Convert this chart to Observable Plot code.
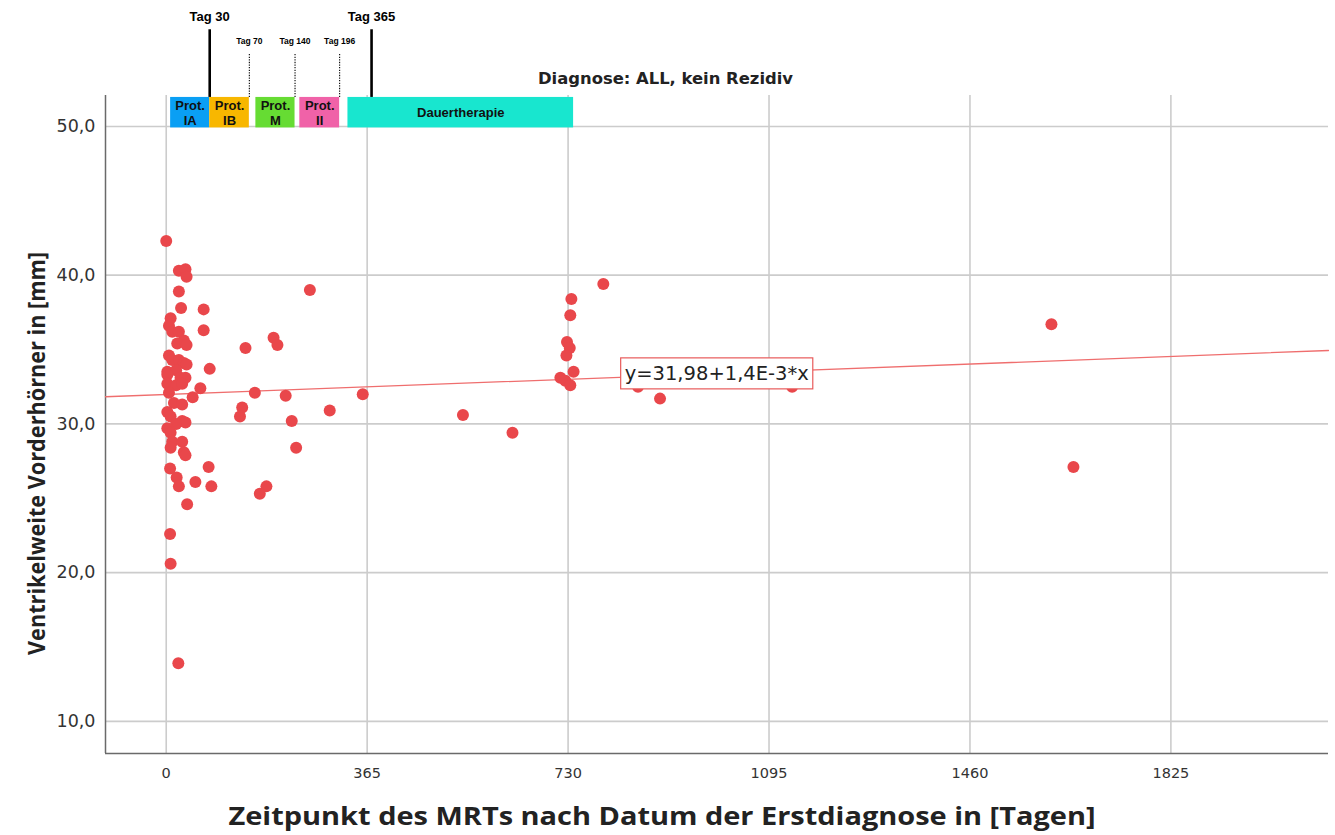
<!DOCTYPE html>
<html>
<head>
<meta charset="utf-8">
<script src="https://cdn.jsdelivr.net/npm/d3@7"></script>
<script src="https://cdn.jsdelivr.net/npm/@observablehq/plot@0.6"></script>
<style>
  html, body { margin: 0; padding: 0; background: #fff; overflow: hidden; }
</style>
</head>
<body>
<div id="chart"></div>
<script>
// MRT-Zeitpunkt (Tage nach Erstdiagnose) und Ventrikelweite der Vorderhörner (mm)
const mriDay = [
  0, 23, 35, 37, 23, 27, 68, 8, 5, 11,
  23, 68, 32, 20, 37, 5, 11, 23, 32, 37,
  2, 18, 2, 26, 35, 79, 2, 18, 29, 62,
  5, 48, 14, 29, 2, 8, 29, 35, 18, 2,
  8, 11, 29, 8, 32, 35, 7, 77, 19, 23,
  53, 82, 38, 7, 8, 22,
  261, 144, 195, 202, 161, 217, 357, 138, 134, 297, 228, 236, 182, 170,
  539, 629, 794, 736, 734, 728, 733, 727, 740, 716, 725, 734, 897, 857, 1137, 1608, 1648
];
const ventricleWidth = [
  42.3, 40.3, 40.4, 39.9, 38.9, 37.8, 37.7, 37.1, 36.6, 36.2,
  36.2, 36.3, 35.6, 35.4, 35.3, 34.6, 34.3, 34.3, 34.1, 34.0,
  33.5, 33.6, 33.3, 33.1, 33.1, 33.7, 32.7, 32.6, 32.7, 32.4,
  32.1, 31.8, 31.4, 31.3, 30.8, 30.5, 30.2, 30.1, 30.0, 29.7,
  29.4, 28.8, 28.8, 28.4, 28.1, 27.9, 27.0, 27.1, 26.4, 25.8,
  26.1, 25.8, 24.6, 22.6, 20.6, 13.9,
  39.0, 35.1, 35.8, 35.3, 32.1, 31.9, 32.0, 31.1, 30.5, 30.9, 30.2, 28.4, 25.8, 25.3,
  30.6, 29.4, 39.4, 38.4, 37.3, 35.5, 35.1, 34.6, 33.5, 33.1, 32.9, 32.6, 31.7, 32.5, 32.5, 36.7, 27.1
];

// Achsenticks
const xTicks = [0, 365, 730, 1095, 1460, 1825];
const yTicks = [10, 20, 30, 40, 50];

// Lineare Regression
const intercept = 31.98;
const slope = 0.0014;
const equationText = "y=31,98+1,4E-3*x";
const equationAtDay = 1000;

// Therapieprotokolle (Tage nach Erstdiagnose)
const phaseNames = ["Prot.\nIA", "Prot.\nIB", "Prot.\nM", "Prot.\nII", "Dauertherapie"];
const phaseStart = [0, 30, 80, 146, 240];
const phaseEnd = [30, 70, 140, 196, 730];
const phaseColors = ["#0a9ff4", "#f8b700", "#66dc33", "#f062a8", "#18e6cf"];

// Meilensteine
const milestoneDays = [30, 70, 140, 196, 365];
const milestoneLabels = ["Tag 30", "Tag 70", "Tag 140", "Tag 196", "Tag 365"];
const milestoneMajor = [true, false, false, false, true];

const title = "Diagnose: ALL, kein Rezidiv";
const xTitle = "Zeitpunkt des MRTs nach Datum der Erstdiagnose in [Tagen]";
const yTitle = "Ventrikelweite Vorderhörner in [mm]";

// ---------------------------------------------------------------------------
const width = 1335, height = 835;
const xDomain = [-110.3, 2111.3];
const yDomain = [7.84, 52.08];

const points = mriDay.map((d, i) => ({day: d, width: ventricleWidth[i]}));
const fit = x => intercept + slope * x;
const fitLine = xDomain.map(x => ({day: x, width: fit(x)}));

// The protocol timeline is drawn schematically (stretched so the phase labels fit),
// anchored to the axis at day 0 and at the end of maintenance.
const timeline = d3.scaleLinear()
  .domain([0, 30, 70, 140, 196, 365, 730])
  .range([8, 79, 151, 234, 315, 373, 740]);

const phases = phaseNames.map((name, i) => ({
  name, from: phaseStart[i], to: phaseEnd[i], color: phaseColors[i]
}));
const milestones = milestoneDays.map((day, i) => ({
  day, label: milestoneLabels[i], major: milestoneMajor[i]
}));

// vertical layout of the protocol band, in the units of the y axis
const bandBottom = 49.9, bandTop = 51.95;
const majorTop = 56.5, minorTop = 54.85;
const majorLabelY = 57.4, minorLabelY = 55.7;

const commaFormat = d => d.toFixed(1).replace(".", ",");
const tickFont = "DejaVu Sans";
const labelFont = "Liberation Sans";

const chart = Plot.plot({
  width, height,
  marginTop: 95, marginRight: 7, marginBottom: 82, marginLeft: 105,
  style: {fontFamily: tickFont, background: "#fff", color: "#333", overflow: "visible"},
  x: {domain: xDomain},
  y: {domain: yDomain},
  color: {type: "identity"},
  marks: [
    Plot.gridX(xTicks, {stroke: "#cccccc", strokeOpacity: 1, strokeWidth: 1.6}),
    Plot.gridY(yTicks, {stroke: "#cccccc", strokeOpacity: 1, strokeWidth: 1.6}),
    Plot.axisX(xTicks, {tickSize: 0, tickPadding: 14, fontSize: 14.5, label: null, color: "#333", tickFormat: d => String(d)}),
    Plot.axisY(yTicks, {tickSize: 0, tickPadding: 10, fontSize: 17.5, label: null, color: "#333", tickFormat: commaFormat}),
    Plot.ruleX([xDomain[0]], {stroke: "#6a6a6a", strokeWidth: 1.5}),
    Plot.ruleY([yDomain[0]], {stroke: "#6a6a6a", strokeWidth: 1.5}),

    // regression line and data
    Plot.line(fitLine, {x: "day", y: "width", stroke: "#ef6e6e", strokeWidth: 1.3}),
    Plot.dot(points, {x: "day", y: "width", r: 6, fill: "#e9474b"}),
    Plot.text([equationText], {
      x: equationAtDay, y: fit(equationAtDay), text: d => d,
      fontSize: 19.5, fill: "#222"
    }),

    // protocol band
    Plot.rect(phases, {
      x1: d => timeline(d.from), x2: d => timeline(d.to),
      y1: bandBottom, y2: bandTop, fill: "color"
    }),
    Plot.text(phases, {
      x: d => (timeline(d.from) + timeline(d.to)) / 2, y: (bandBottom + bandTop) / 2,
      text: "name", fontFamily: labelFont, fontWeight: "bold", fontSize: 13,
      lineHeight: 1.15, fill: "#111"
    }),
    Plot.ruleX(milestones.filter(d => d.major), {
      x: d => timeline(d.day), y1: bandTop, y2: majorTop, stroke: "#000", strokeWidth: 2.6
    }),
    Plot.ruleX(milestones.filter(d => !d.major), {
      x: d => timeline(d.day), y1: bandTop, y2: minorTop, stroke: "#000",
      strokeWidth: 1.1, strokeDasharray: "1.3,1.3"
    }),
    Plot.text(milestones.filter(d => d.major), {
      x: d => timeline(d.day), y: majorLabelY, text: "label",
      fontFamily: labelFont, fontWeight: "bold", fontSize: 13, fill: "#000"
    }),
    Plot.text(milestones.filter(d => !d.major), {
      x: d => timeline(d.day), y: minorLabelY, text: "label",
      fontFamily: labelFont, fontWeight: "bold", fontSize: 8.5, fill: "#000"
    }),

    // titles
    Plot.text([title], {
      frameAnchor: "top", lineAnchor: "middle", textAnchor: "middle", dx: -51.5, dy: -17,
      text: d => d, fontFamily: tickFont, fontWeight: "bold", fontSize: 16.4, fill: "#222"
    }),
    Plot.text([xTitle], {
      frameAnchor: "bottom", lineAnchor: "middle", textAnchor: "middle", dx: -55, dy: 63,
      text: d => d, fontFamily: "Open Sans", fontWeight: "bold", fontSize: 25, fill: "#222"
    }),
    Plot.text([yTitle], {
      frameAnchor: "left", lineAnchor: "middle", textAnchor: "middle", rotate: -90, dx: -68, dy: 29,
      text: d => d, fontFamily: "Open Sans", fontWeight: "bold", fontSize: 23, fill: "#222"
    })
  ]
});

document.getElementById("chart").append(chart);

const textNode = content =>
  Array.from(chart.querySelectorAll("text")).find(t => t.textContent === content);

// axis titles are set in a condensed width
const xt = textNode(xTitle);
if (xt) d3.select(xt).attr("textLength", 867).attr("lengthAdjust", "spacingAndGlyphs");
const yt = textNode(yTitle);
if (yt) d3.select(yt).attr("textLength", 403).attr("lengthAdjust", "spacingAndGlyphs");

// framed box behind the regression equation
const eq = textNode(equationText);
if (eq) {
  const bb = eq.getBBox();
  const box = document.createElementNS("http://www.w3.org/2000/svg", "rect");
  eq.parentNode.insertBefore(box, eq);
  const tr = eq.getAttribute("transform");
  if (tr) box.setAttribute("transform", tr);
  d3.select(box)
    .attr("x", bb.x - 4).attr("y", bb.y - 4)
    .attr("width", bb.width + 8).attr("height", bb.height + 8)
    .attr("fill", "#fff").attr("stroke", "#e85b5b").attr("stroke-width", 1.2);
}
</script>
</body>
</html>
